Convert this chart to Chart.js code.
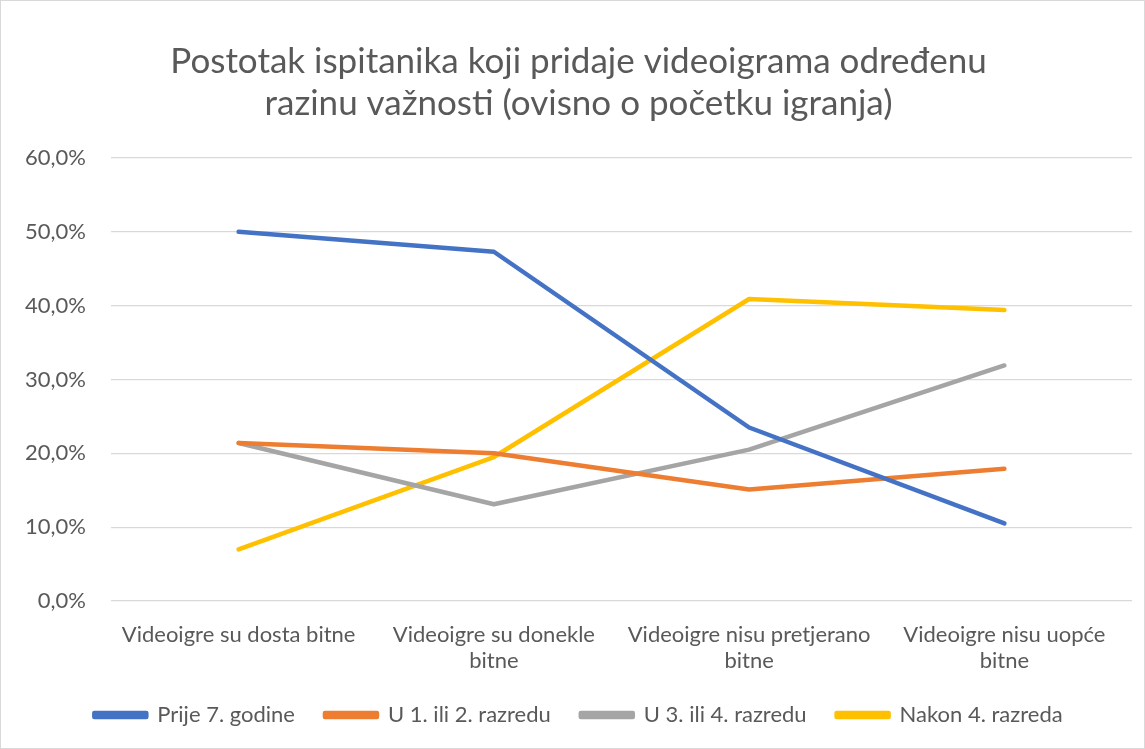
<!DOCTYPE html>
<html>
<head>
<meta charset="utf-8">
<script src="https://cdn.jsdelivr.net/npm/chart.js@4"></script>
<style>
    html, body { margin: 0; padding: 0; background: #fff; }
    #wrap {
        position: absolute; left: 0; top: 0;
        width: 1143px; height: 747px;
        border: 1px solid #d9d9d9;
    }
</style>
</head>
<body>
<div id="wrap"><canvas id="chart"></canvas></div>
<script>
const categories = [
    'Videoigre su dosta bitne',
    ['Videoigre su donekle', 'bitne'],
    ['Videoigre nisu pretjerano', 'bitne'],
    ['Videoigre nisu uopće', 'bitne']
];
const seriesNames = ['Prije 7. godine', 'U 1. ili 2. razredu', 'U 3. ili 4. razredu', 'Nakon 4. razreda'];
const prije7 = [50.0, 47.3, 23.5, 10.5];
const razred12 = [21.4, 20.0, 15.1, 17.9];
const razred34 = [21.4, 13.1, 20.5, 31.9];
const nakon4 = [7.0, 19.5, 40.9, 39.4];
const yTicks = [0, 10, 20, 30, 40, 50, 60];

const colors = ['#4472C4', '#ED7D31', '#A5A5A5', '#FFC000'];
const allSeries = [prije7, razred12, razred34, nakon4];

Chart.defaults.font.family = "Lato, sans-serif";
Chart.defaults.color = '#595959';

const ctx = document.getElementById('chart').getContext('2d');
new Chart(ctx, {
    type: 'line',
    data: {
        labels: categories,
        datasets: allSeries.map((vals, i) => ({
            label: seriesNames[i],
            data: vals,
            borderColor: colors[i],
            backgroundColor: colors[i],
            borderWidth: 4.5,
            borderCapStyle: 'round',
            borderJoinStyle: 'round',
            pointRadius: 0,
            tension: 0
        }))
    },
    options: {
        responsive: true,
        maintainAspectRatio: false,
        animation: false,
        layout: { padding: { left: 24, right: 12, top: 40, bottom: 12 } },
        plugins: {
            title: {
                display: true,
                text: ['Postotak ispitanika koji pridaje videoigrama određenu', 'razinu važnosti (ovisno o početku igranja)'],
                font: { size: 35, weight: 'normal' },
                color: '#595959',
                padding: { top: 0, bottom: 33 },
                lineHeight: 1.23
            },
            legend: {
                position: 'bottom',
                labels: {
                    boxWidth: 52,
                    boxHeight: 4,
                    padding: 30,
                    font: { size: 22 },
                    color: '#595959'
                }
            },
            tooltip: { enabled: false }
        },
        scales: {
            y: {
                min: 0,
                max: 60,
                afterBuildTicks: axis => { axis.ticks = yTicks.map(v => ({ value: v })); },
                afterFit: axis => { axis.width = 86; },
                ticks: {
                    font: { size: 22 },
                    padding: 25,
                    callback: v => v.toFixed(1).replace('.', ',') + '%'
                },
                grid: { color: '#d9d9d9', lineWidth: 1.2, drawTicks: false },
                border: { display: false }
            },
            x: {
                offset: true,
                afterFit: axis => { axis.height = 73; },
                ticks: {
                    font: { size: 22, lineHeight: 1.22 },
                    padding: 20,
                    maxRotation: 0,
                    autoSkip: false
                },
                grid: { display: false, drawTicks: false },
                border: { display: false }
            }
        }
    }
});
</script>
</body>
</html>
